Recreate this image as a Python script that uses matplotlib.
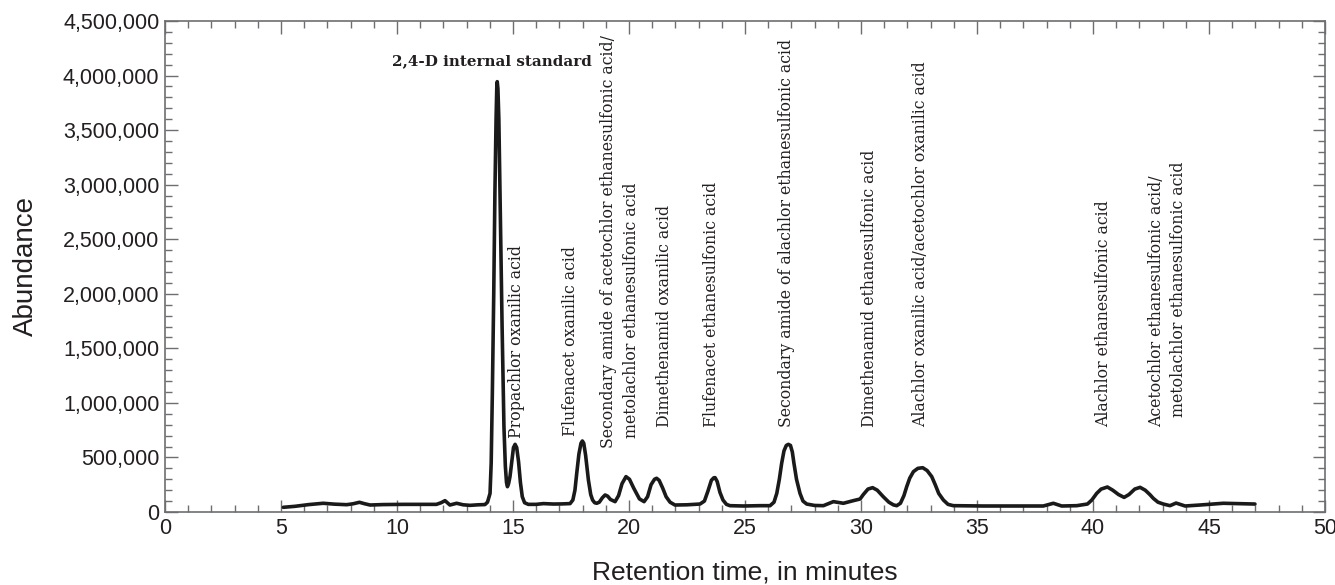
import matplotlib
matplotlib.use("Agg")
import matplotlib.pyplot as plt
from matplotlib.ticker import MultipleLocator, FuncFormatter

# Retention time (minutes) and abundance (millions)
time_min = [5.10, 5.60, 6.20, 6.82, 7.30, 7.83, 8.10, 8.38, 8.60, 8.84, 9.40, 10.27,
            11.00, 11.70, 11.90, 12.07, 12.28, 12.57, 12.85, 13.15, 13.50, 13.79,
            13.90, 14.01, 14.06, 14.11, 14.17, 14.22, 14.27, 14.30, 14.32, 14.35,
            14.39, 14.44, 14.53, 14.61, 14.67, 14.72, 14.76, 14.81, 14.87, 14.95,
            15.02, 15.09, 15.16, 15.24, 15.32, 15.40, 15.50, 15.66, 16.00, 16.31,
            16.74, 17.10, 17.46, 17.58, 17.67, 17.75, 17.84, 17.93, 17.99, 18.05,
            18.13, 18.25, 18.35, 18.43, 18.52, 18.61, 18.72, 18.85, 18.97, 19.08,
            19.20, 19.40, 19.55, 19.70, 19.87, 20.02, 20.20, 20.45, 20.65, 20.80,
            20.95, 21.10, 21.19, 21.30, 21.45, 21.60, 21.77, 21.98, 22.50, 23.06,
            23.25, 23.40, 23.55, 23.65, 23.71, 23.80, 23.92, 24.05, 24.20, 24.35,
            24.93, 25.64, 26.08, 26.25, 26.37, 26.48, 26.58, 26.68, 26.78, 26.87,
            26.96, 27.04, 27.11, 27.22, 27.37, 27.50, 27.66, 28.00, 28.38, 28.81,
            29.24, 29.67, 29.96, 30.10, 30.30, 30.50, 30.70, 30.96, 31.20, 31.40,
            31.54, 31.70, 31.85, 31.97, 32.10, 32.26, 32.45, 32.66, 32.85, 33.05,
            33.20, 33.35, 33.55, 33.75, 33.98, 35.27, 37.40, 37.86, 38.29, 38.65,
            39.30, 39.76, 39.95, 40.16, 40.35, 40.62, 40.85, 41.10, 41.34, 41.55,
            41.80, 42.03, 42.25, 42.45, 42.60, 42.80, 43.03, 43.32, 43.58, 43.97,
            44.61, 45.62, 46.34, 46.98]
abundance = [0.043, 0.052, 0.068, 0.080, 0.072, 0.067, 0.075, 0.089, 0.076, 0.064, 0.068, 0.070,
             0.070, 0.070, 0.085, 0.104, 0.064, 0.080, 0.066, 0.061, 0.066, 0.068,
             0.090, 0.170, 0.450, 1.090, 2.000, 2.920, 3.600, 3.880, 3.944, 3.880,
             3.600, 2.920, 1.700, 0.780, 0.420, 0.270, 0.232, 0.260, 0.324, 0.470,
             0.590, 0.620, 0.590, 0.460, 0.270, 0.140, 0.085, 0.070, 0.070, 0.077,
             0.073, 0.074, 0.077, 0.110, 0.200, 0.360, 0.530, 0.630, 0.651, 0.630,
             0.520, 0.293, 0.160, 0.110, 0.085, 0.080, 0.090, 0.130, 0.156, 0.145,
             0.115, 0.095, 0.150, 0.260, 0.324, 0.300, 0.220, 0.120, 0.095, 0.140,
             0.250, 0.300, 0.309, 0.290, 0.220, 0.140, 0.090, 0.064, 0.066, 0.073,
             0.100, 0.190, 0.290, 0.313, 0.315, 0.280, 0.180, 0.110, 0.070, 0.058,
             0.055, 0.058, 0.058, 0.090, 0.171, 0.300, 0.446, 0.560, 0.610, 0.620,
             0.610, 0.550, 0.446, 0.300, 0.171, 0.100, 0.073, 0.060, 0.058, 0.095,
             0.080, 0.104, 0.119, 0.160, 0.210, 0.223, 0.200, 0.140, 0.090, 0.065,
             0.058, 0.080, 0.150, 0.232, 0.310, 0.370, 0.400, 0.406, 0.380, 0.324,
             0.250, 0.170, 0.110, 0.070, 0.058, 0.055, 0.055, 0.055, 0.080, 0.055,
             0.058, 0.073, 0.110, 0.171, 0.210, 0.229, 0.200, 0.160, 0.134, 0.160,
             0.210, 0.226, 0.200, 0.160, 0.125, 0.090, 0.073, 0.058, 0.082, 0.055,
             0.064, 0.080, 0.076, 0.073]

# Peak labels: text, x (minutes), bottom of text (abundance)
vertical_labels = ["Propachlor oxanilic acid",
                   "Flufenacet oxanilic acid",
                   "Secondary amide of acetochlor ethanesulfonic acid/",
                   "metolachlor ethanesulfonic acid",
                   "Dimethenamid oxanilic acid",
                   "Flufenacet ethanesulfonic acid",
                   "Secondary amide of alachlor ethanesulfonic acid",
                   "Dimethenamid ethanesulfonic acid",
                   "Alachlor oxanilic acid/acetochlor oxanilic acid",
                   "Alachlor ethanesulfonic acid",
                   "Acetochlor ethanesulfonic acid/",
                   "metolachlor ethanesulfonic acid"]
label_x = [15.16, 17.49, 19.10, 20.12, 21.55, 23.56, 26.77, 30.36, 32.55, 40.47, 42.74, 43.67]
label_y = [0.68e6, 0.70e6, 0.59e6, 0.68e6, 0.78e6, 0.78e6, 0.78e6, 0.78e6, 0.78e6, 0.78e6, 0.78e6, 0.87e6]

standard_label = "2,4-D internal standard"
standard_x = 14.09
standard_y = 4.07e6

x_ticks = [0, 5, 10, 15, 20, 25, 30, 35, 40, 45, 50]
y_ticks = [0, 500000, 1000000, 1500000, 2000000, 2500000, 3000000, 3500000, 4000000, 4500000]

text_color = "#231f20"
spine_color = "#6d6e71"

fig = plt.figure(figsize=(13.35, 5.85), dpi=100)
ax = fig.add_axes([165 / 1335, (585 - 512) / 585, 1160 / 1335, 491 / 585])

ax.plot(time_min, [v * 1e6 for v in abundance], color="#1a1a1a", lw=2.6,
        solid_joinstyle="round", solid_capstyle="round")

ax.set_xlim(0, 50)
ax.set_ylim(0, 4.5e6)
ax.set_xticks(x_ticks)
ax.set_yticks(y_ticks)
ax.xaxis.set_minor_locator(MultipleLocator(1))
ax.yaxis.set_minor_locator(MultipleLocator(100000))
ax.yaxis.set_major_formatter(FuncFormatter(lambda v, p: f"{int(round(v)):,}"))

for s in ax.spines.values():
    s.set_color(spine_color)
    s.set_linewidth(1.2)

ax.tick_params(which="both", direction="in", top=True, right=True,
               color=spine_color, width=1.0)
ax.tick_params(which="major", length=9, labelsize=15.5, labelcolor=text_color, pad=4)
ax.tick_params(which="minor", length=5)
for lab in ax.get_xticklabels() + ax.get_yticklabels():
    lab.set_fontfamily("Liberation Sans")

ax.set_xlabel("Retention time, in minutes", fontsize=19, color=text_color,
              fontfamily="Liberation Sans", labelpad=16)
ax.set_ylabel("Abundance", fontsize=20, color=text_color,
              fontfamily="Liberation Sans", labelpad=17)

for txt, xv, yv in zip(vertical_labels, label_x, label_y):
    ax.text(xv, yv, txt, rotation=90, ha="center", va="bottom",
            fontsize=11.3, fontfamily="DejaVu Serif", color=text_color)

ax.text(standard_x, standard_y, standard_label, ha="center", va="bottom",
        fontsize=10.9, fontweight="bold", fontfamily="DejaVu Serif", color=text_color)

fig.savefig("out.png", dpi=100)
